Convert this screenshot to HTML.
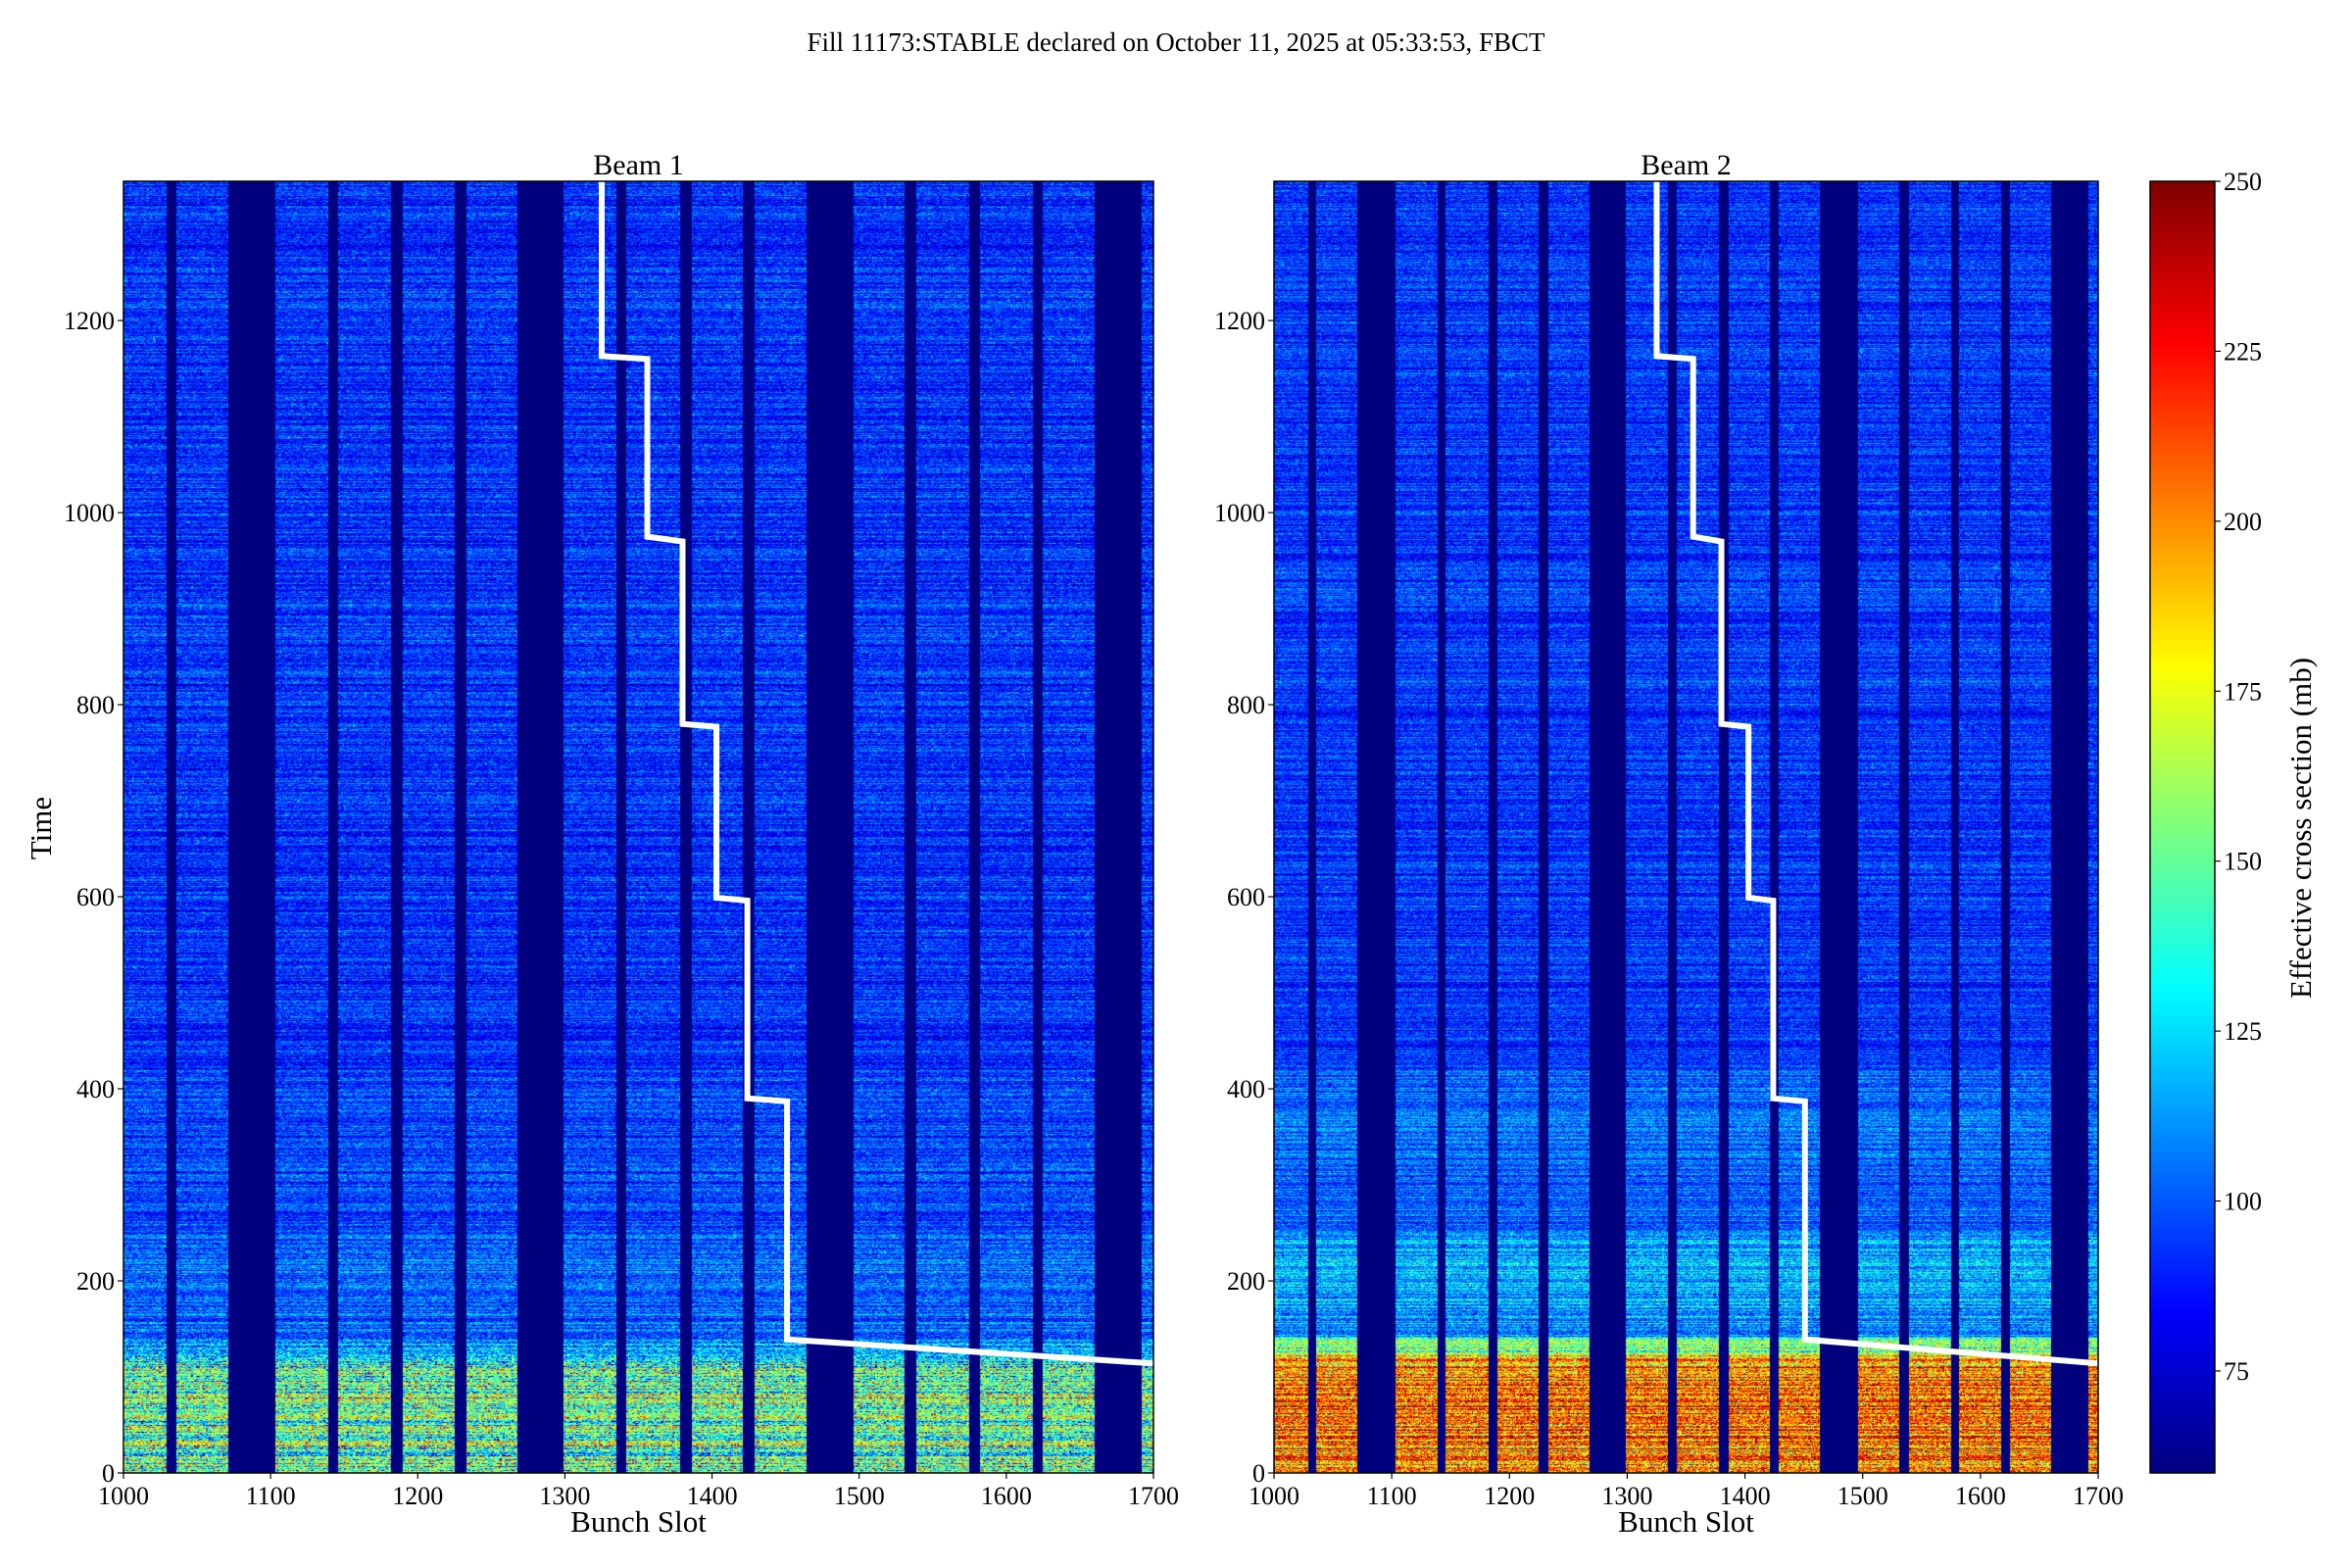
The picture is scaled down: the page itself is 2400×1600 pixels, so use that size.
<!DOCTYPE html>
<html><head><meta charset="utf-8"><style>
html,body{margin:0;padding:0;background:#fff;}
#wrap{position:relative;width:2400px;height:1600px;overflow:hidden;font-family:"Liberation Serif",serif;}
canvas{position:absolute;}
svg{position:absolute;left:0;top:0;}
</style></head><body>
<div id="wrap">
<canvas id="hm1"></canvas>
<canvas id="hm2"></canvas>
<canvas id="cbar"></canvas>
<svg id="ov" width="2400" height="1600"></svg>
</div>
<script>
// ---- data ----
const trainStarts = [1000,1036,1103,1146,1190,1233,1299,1342,1386,1429,1496,1539,1582,1625,1692];
const trainEnds   = [1029,1071,1139,1182,1225,1268,1335,1378,1421,1464,1531,1575,1618,1660,1700];
const timeBreaks  = [0,122,142,250,420,1345];
const beam1Means  = [150,118,102,96,92];
const beam2Means  = [205,155,115,103,93];
const beam1Spread = [50,32,22,20,19];
const beam2Spread = [45,38,26,21,19];
const stepSlots = [1325,1325,1356,1356,1380,1380,1403,1403,1424,1424,1451,1451,1700];
const stepTimes = [1345,1163,1160,975,970,780,777,599,596,390,387,139,114];
const xTicks = [1000,1100,1200,1300,1400,1500,1600,1700];
const yTicks = [0,200,400,600,800,1000,1200];
const cTicks = [75,100,125,150,175,200,225,250];
const vMin=60, vMax=250, tMax=1345, sMin=1000, sMax=1700;

const Y0=185, Y1=1503;
const panels=[{x0:126,x1:1177,title:'Beam 1',means:beam1Means,spread:beam1Spread,id:'hm1',n:'beam1'},
              {x0:1300,x1:2141,title:'Beam 2',means:beam2Means,spread:beam2Spread,id:'hm2',n:'beam2'}];
const CB={x0:2194,x1:2260};

function jet(t){
  t=Math.max(0,Math.min(1,t));
  const f=(a)=>Math.max(0,Math.min(1,a));
  const r=f(Math.min(4*t-1.5,-4*t+4.5));
  const g=f(Math.min(4*t-0.5,-4*t+3.5));
  const b=f(Math.min(4*t+0.5,-4*t+2.5));
  return [r*255|0,g*255|0,b*255|0];
}
// deterministic texture hash (visual grain only)
function h(a,b,s){let x=(a*374761393+b*668265263+s*982451653)|0;x=(x^(x>>>13))*1274126177|0;x=x^(x>>>16);return ((x>>>0)%10000)/10000;}
function filled(s){for(let i=0;i<trainStarts.length;i++){if(s>=trainStarts[i]&&s<trainEnds[i])return true;}return false;}
function band(t){for(let i=0;i<timeBreaks.length-1;i++){if(t<timeBreaks[i+1])return i;}return timeBreaks.length-2;}
function level(arr,t){
  const i=band(t);
  // soften band edges over 12 time units
  const edge=timeBreaks[i+1];
  if(i<arr.length-1 && edge-t<12){const w=(12-(edge-t))/24;return arr[i]*(1-w)+arr[i+1]*w;}
  return arr[i];
}

const svgNS='http://www.w3.org/2000/svg';
const ov=document.getElementById('ov');
function el(tag,attrs,parent){const e=document.createElementNS(svgNS,tag);for(const k in attrs)e.setAttribute(k,attrs[k]);(parent||ov).appendChild(e);return e;}

panels.forEach((p,pi)=>{
  const cv=document.getElementById(p.id);
  const W=p.x1-p.x0,H=Y1-Y0;
  cv.width=W;cv.height=H;cv.style.left=p.x0+'px';cv.style.top=Y0+'px';
  const nc=sMax-sMin,nr=tMax;
  const off=document.createElement('canvas');off.width=nc;off.height=nr;
  const octx=off.getContext('2d');const img=octx.createImageData(nc,nr);
  for(let r=0;r<nr;r++){
    const t=nr-1-r;const bi=band(t);
    const rowF=(h(t,7,pi+3)-0.5)*2;
    const m=level(p.means,t), sp=level(p.spread,t);
    for(let c=0;c<nc;c++){
      const s=sMin+c;let v;
      if(!filled(s)) v=vMin;
      else{
        const n=(h(c,t,pi+11)+h(c+1,t,pi+5)+h(c,t+1,pi+9))/3-0.5;
        v=m+sp*(n*3.2+rowF*0.7);
      }
      const col=jet((v-vMin)/(vMax-vMin));
      const k=(r*nc+c)*4;img.data[k]=col[0];img.data[k+1]=col[1];img.data[k+2]=col[2];img.data[k+3]=255;
    }
  }
  octx.putImageData(img,0,0);
  const ctx=cv.getContext('2d');ctx.imageSmoothingEnabled=false;ctx.drawImage(off,0,0,W,H);

  const xs=s=>p.x0+(s-sMin)/(sMax-sMin)*W;
  const ys=t=>Y1-t/tMax*H;
  const g=el('g',{});
  
  
  const pts=stepSlots.map((s,i)=>xs(s).toFixed(1)+','+ys(stepTimes[i]).toFixed(1)).join(' ');
  const pl=el('polyline',{points:pts,fill:'none',stroke:'#fff','stroke-width':6,'stroke-linejoin':'miter'},g);
  
  
  const fr=el('rect',{x:p.x0,y:Y0,width:W,height:H,fill:'none',stroke:'#000','stroke-width':1.5},g);
  
  
  xTicks.forEach(v=>{
    el('line',{x1:xs(v),x2:xs(v),y1:Y1,y2:Y1+6,stroke:'#000','stroke-width':1.2},g);
    const tx=el('text',{x:xs(v),y:Y1+32,'font-size':26,'text-anchor':'middle'},g);tx.textContent=v;
    
    
  });
  yTicks.forEach(v=>{
    el('line',{x1:p.x0-6,x2:p.x0,y1:ys(v),y2:ys(v),stroke:'#000','stroke-width':1.2},g);
    const tx=el('text',{x:p.x0-9,y:ys(v)+9,'font-size':26,'text-anchor':'end'},g);tx.textContent=v;
    
    
  });
  const tt=el('text',{x:(p.x0+p.x1)/2,y:178,'font-size':30,'text-anchor':'middle'},g);tt.textContent=p.title;
  
  
  const xl=el('text',{x:(p.x0+p.x1)/2,y:1563,'font-size':31,'text-anchor':'middle'},g);xl.textContent='Bunch Slot';
  
  
});

const yl=el('text',{x:0,y:0,'font-size':31,'text-anchor':'middle',transform:'translate(52,845) rotate(-90)'});
yl.textContent='Time';



(function(){
  const cv=document.getElementById('cbar');const W=CB.x1-CB.x0,H=Y1-Y0;
  cv.width=W;cv.height=H;cv.style.left=CB.x0+'px';cv.style.top=Y0+'px';
  const ctx=cv.getContext('2d');
  for(let r=0;r<H;r++){const c=jet(1-r/H);ctx.fillStyle='rgb('+c[0]+','+c[1]+','+c[2]+')';ctx.fillRect(0,r,W,1);}
  const cy=v=>Y1-(v-vMin)/(vMax-vMin)*H;
  const fr=el('rect',{x:CB.x0,y:Y0,width:W,height:H,fill:'none',stroke:'#000','stroke-width':1.5});
  
  
  cTicks.forEach(v=>{
    el('line',{x1:CB.x1,x2:CB.x1+6,y1:cy(v),y2:cy(v),stroke:'#000','stroke-width':1.2});
    const tx=el('text',{x:CB.x1+9,y:cy(v)+9,'font-size':26,'text-anchor':'start'});tx.textContent=v;
    
    
  });
  const cl=el('text',{x:0,y:0,'font-size':31,'text-anchor':'middle',transform:'translate(2358,845) rotate(-90)'});
  cl.textContent='Effective cross section (mb)';
  
  
})();

const st=el('text',{x:1200,y:52,'font-size':27,'text-anchor':'middle'});
st.textContent='Fill 11173:STABLE declared on October 11, 2025 at 05:33:53, FBCT';


</script>
</body></html>
